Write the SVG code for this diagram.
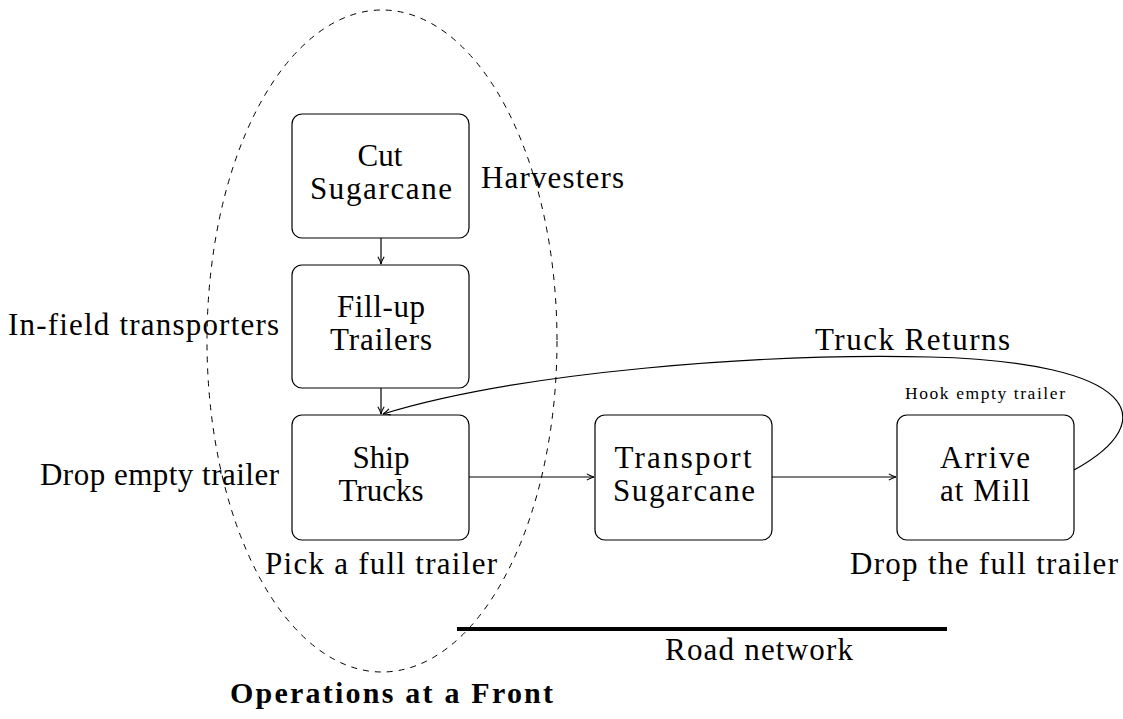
<svg xmlns="http://www.w3.org/2000/svg" width="1123" height="719" viewBox="0 0 1123 719">
<defs>
<style>
.node rect{fill:#fff;stroke:#000;stroke-width:1.2}
text{font-family:"Liberation Serif",serif;fill:#000}
.t{font-size:31px;text-anchor:middle}
.lbl{font-size:31px}
.c path,.c line{fill:none;stroke:#000;stroke-width:1.2}
</style>
<marker id="ah" viewBox="0 0 10 10" refX="9" refY="5" markerWidth="9" markerHeight="9" orient="auto" markerUnits="userSpaceOnUse">
<path d="M1,1.5 Q5,4 9,5 Q5,6 1,8.5" fill="none" stroke="#000" stroke-width="1.2"/>
</marker>
</defs>
<rect width="1123" height="719" fill="#fff"/>
<ellipse cx="382" cy="341" rx="175" ry="331" fill="none" stroke="#000" stroke-width="1" stroke-dasharray="6,6"/>
<line x1="457" y1="629" x2="947" y2="629" stroke="#000" stroke-width="4"/>
<g id="cut" class="node"><rect x="292" y="114" width="177" height="124" rx="10"/><text class="t" x="380" y="166">Cut</text><text class="t" x="381" y="199" textLength="142" lengthAdjust="spacing">Sugarcane</text></g>
<g id="fill" class="node"><rect x="292" y="265" width="177" height="123" rx="10"/><text class="t" x="381" y="317" textLength="88" lengthAdjust="spacing">Fill-up</text><text class="t" x="381" y="350" textLength="102" lengthAdjust="spacing">Trailers</text></g>
<g id="ship" class="node"><rect x="292" y="415" width="177" height="125" rx="10"/><text class="t" x="381" y="468">Ship</text><text class="t" x="381" y="501">Trucks</text></g>
<g id="transport" class="node"><rect x="595" y="415" width="177" height="125" rx="10"/><text class="t" x="683" y="468" textLength="137" lengthAdjust="spacing">Transport</text><text class="t" x="684" y="501" textLength="142" lengthAdjust="spacing">Sugarcane</text></g>
<g id="arrive" class="node"><rect x="897" y="415" width="177" height="125" rx="10"/><text class="t" x="985" y="468" textLength="90" lengthAdjust="spacing">Arrive</text><text class="t" x="985" y="501" textLength="90" lengthAdjust="spacing">at Mill</text></g>
<g id="connectors" class="c">
<line x1="381" y1="238" x2="381" y2="264" marker-end="url(#ah)"/>
<line x1="381" y1="388" x2="381" y2="414" marker-end="url(#ah)"/>
<line x1="469" y1="477" x2="594" y2="477" marker-end="url(#ah)"/>
<line x1="772" y1="477" x2="896" y2="477" marker-end="url(#ah)"/>
<path d="M1074,470 C1165,420 1135,362 930,357 C760,353 520,372 383,414" marker-end="url(#ah)"/>
</g>
<g id="labels">
<text class="lbl" x="481" y="188" textLength="143" lengthAdjust="spacing">Harvesters</text>
<text class="lbl" x="8" y="335" textLength="271" lengthAdjust="spacing">In-field transporters</text>
<text class="lbl" x="815" y="350" textLength="195" lengthAdjust="spacing">Truck Returns</text>
<text x="905" y="399" font-size="17.5" textLength="160" lengthAdjust="spacing">Hook empty trailer</text>
<text class="lbl" x="40" y="485" textLength="239" lengthAdjust="spacing">Drop empty trailer</text>
<text class="lbl" x="265" y="574" textLength="232" lengthAdjust="spacing">Pick a full trailer</text>
<text class="lbl" x="850" y="574" textLength="268" lengthAdjust="spacing">Drop the full trailer</text>
<text class="lbl" x="665" y="660" textLength="188" lengthAdjust="spacing">Road network</text>
<text x="230" y="703" font-size="30" font-weight="bold" textLength="323" lengthAdjust="spacing">Operations at a Front</text>
</g>
</svg>
